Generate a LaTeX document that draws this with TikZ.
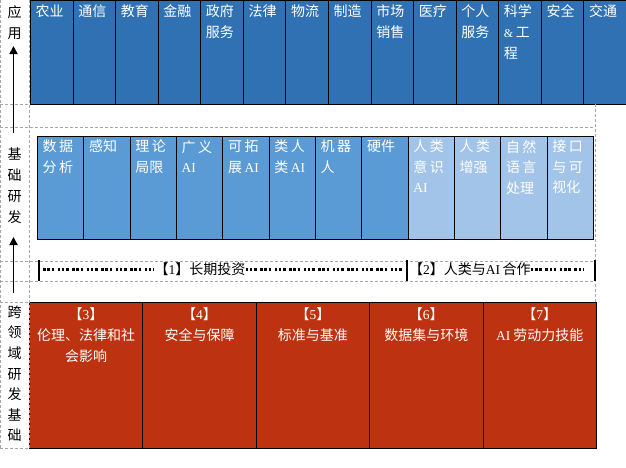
\documentclass[tikz,border=0pt]{standalone}
\usepackage{fontspec}
\setmainfont{Noto Sans CJK SC}
\newfontfamily\latinf{Liberation Serif}
\usetikzlibrary{arrows.meta}
\definecolor{topblue}{HTML}{2F71B3}
\definecolor{midblue}{HTML}{5B9BD5}
\definecolor{lightblue}{HTML}{A2C4E8}
\definecolor{redbox}{HTML}{BD3210}
\definecolor{gridgray}{HTML}{A8A8A8}
\newcommand\gp{\hspace{2.5pt}}
\newcommand\ai{{\latinf\fontsize{13.5}{12}\selectfont AI}}
\newcommand\dg[1]{{\latinf\fontsize{13.5}{12}\selectfont #1}}
\begin{document}
\begin{tikzpicture}[x=1pt,y=-1pt,
  cjk/.style={font=\fontsize{14}{21}\selectfont},
  box/.style={draw=black,line width=0.8pt,anchor=north west,inner sep=0pt},
  topbox/.style={box,fill=topblue,minimum width=42.571pt,minimum height=104pt},
  midbox/.style={box,fill=midblue,minimum width=46.33pt,minimum height=103pt},
  lightbox/.style={box,fill=lightblue,minimum width=46.33pt,minimum height=103pt},
  redbx/.style={box,fill=redbox,minimum width=113.4pt,minimum height=146pt},
  boxtxt/.style={cjk,text=white,anchor=north west,align=left,inner sep=0pt},
  midtxt/.style={boxtxt,font=\fontsize{14}{20.5}\selectfont},
  redtxt/.style={cjk,text=white,anchor=north,align=center,inner sep=0pt},
  sidetxt/.style={cjk,anchor=north,align=center,inner sep=0pt},
  gridline/.style={draw=gridgray,line width=0.8pt,dash pattern=on 3pt off 2pt},
  uparrow/.style={draw=black,line width=1.8pt,-{Triangle[length=8pt,width=8pt]}},
  barline/.style={draw=black,line width=2.5pt},
  dotl/.style={draw=black,line width=2.2pt,dash pattern=on 2.5pt off 1.8pt on 2.5pt off 1.8pt on 2.5pt off 3.4pt},
  linetxt/.style={cjk,inner sep=0pt,fill=white}
]
\useasboundingbox (0,0) rectangle (626,467);
\fill[white] (0,0) rectangle (626,467);

% top row: applications
\foreach \t [count=\i from 0] in {农业,通信,教育,金融,政府\\服务,法律,物流,制造,市场\\销售,医疗,个人\\服务,科学\\{\latinf\fontsize{12}{11}\selectfont\&}\gp{}工\\程,安全,交通}{
  \node[topbox] (t\i) at ({30+\i*42.571},0) {};
  \node[boxtxt] (tt\i) at ([xshift=5.5pt,yshift=-4.5pt]t\i.north west) {\t};
}

% middle row: basic research
\foreach \t [count=\i from 0] in {数\gp{}据\\分\gp{}析,感知,理\gp{}论\\局限,广\gp{}义\\\ai,可\gp{}拓\\展\gp{}\ai,类\gp{}人\\类\gp{}\ai,机\gp{}器\\人,硬件}{
  \node[midbox] (m\i) at ({37+\i*46.33},136) {};
  \node[midtxt] (mt\i) at ([xshift=5.5pt,yshift=-4pt]m\i.north west) {\t};
}
\foreach \t [count=\i from 8] in {人\gp{}类\\意\gp{}识\\\ai,人\gp{}类\\增强,自\gp{}然\\语\gp{}言\\处理,接\gp{}口\\与\gp{}可\\视化}{
  \node[lightbox] (m\i) at ({37+\i*46.33},136) {};
  \node[midtxt] (mt\i) at ([xshift=5.5pt,yshift=-4pt]m\i.north west) {\t};
}

% bottom row: cross-cutting foundations
\foreach \t [count=\i from 0] in {【\dg{3}】\\伦理、法律和社\\会影响,【\dg{4}】\\安全与保障,【\dg{5}】\\标准与基准,【\dg{6}】\\数据集与环境,【\dg{7}】\\\ai\ 劳动力技能}{
  \node[redbx] (r\i) at ({29+\i*113.4},302) {};
  \node[redtxt] (rt\i) at ([yshift=-5.5pt]r\i.north) {\t};
}

% dashed table rules
\draw[gridline] (0.8,0) -- (0.8,448);
\draw[gridline] (29,0) -- (29,448);
\draw[gridline] (595,104) -- (595,302);
\draw[gridline] (0,104) -- (29,104);
\draw[gridline] (0,127) -- (595,127);
\draw[gridline] (0,261) -- (595,261);
\draw[gridline] (0,281) -- (595,281);
\draw[gridline] (0,302) -- (29,302);
\draw[gridline] (0,448) -- (29,448);

% side labels
\node[sidetxt] (s1) at (14.5,5) {应\\用};
\node[sidetxt] (s2) at (14.5,148) {基\\础\\研\\发};
\node[sidetxt,font=\fontsize{14}{20.6}\selectfont] (s3) at (14.5,305.5) {跨\\领\\域\\研\\发\\基\\础};

% arrows
\coordinate (a1s) at (13.5,133);
\coordinate (a1e) at (13.5,46);
\coordinate (a2s) at (13.5,293);
\coordinate (a2e) at (13.5,237);
\draw[uparrow] (a1s) -- (a1e);
\draw[uparrow] (a2s) -- (a2e);

% strategy lines
\coordinate (b1t) at (39,260); \coordinate (b1b) at (39,281);
\coordinate (b2t) at (407,260); \coordinate (b2b) at (407,281);
\coordinate (b3t) at (595,260); \coordinate (b3b) at (595,281);
\coordinate (d1s) at (43,269.5);
\coordinate (d1e) at (405,269.5);
\coordinate (d2e) at (583,269.5);
\node[linetxt] (l1) at (200,269.5) {【\dg{1}】长期投资};
\node[linetxt,anchor=west] (l2) at (409,269.5) {【\dg{2}】人类与\ai\,合作};
\draw[dotl] (d1s) -- (l1.west);
\draw[dotl] (l1.east) -- (d1e);
\draw[dotl] (l2.east) -- (d2e);
\draw[barline] (b1t) -- (b1b);
\draw[barline] (b2t) -- (b2b);
\draw[barline] (b3t) -- (b3b);
\end{tikzpicture}
\end{document}
